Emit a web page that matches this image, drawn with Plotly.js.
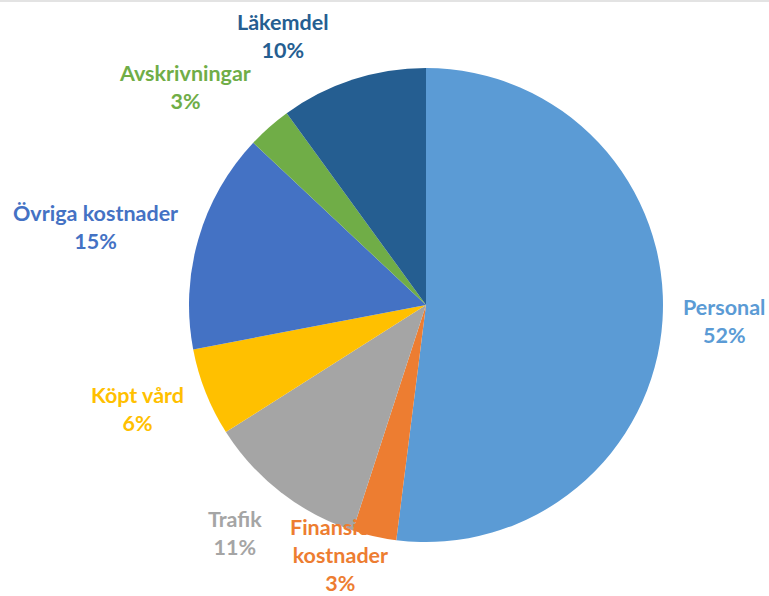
<!DOCTYPE html>
<html>
<head>
<meta charset="utf-8">
<script src="https://cdn.plot.ly/plotly-3.0.1.min.js"></script>
<style>html,body{margin:0;padding:0;background:#fff;}#chart{width:769px;height:596px;}</style>
</head>
<body>
<div id="chart"></div>
<script>
// Data
const labels = ["Personal", "Finansiella kostnader", "Trafik", "Köpt vård", "Övriga kostnader", "Avskrivningar", "Läkemdel"];
const labelLines = ["Personal", "Finansiella<br>kostnader", "Trafik", "Köpt vård", "Övriga kostnader", "Avskrivningar", "Läkemdel"];
const values = [52, 3, 11, 6, 15, 3, 10];
const colors = ["#5B9BD5", "#ED7D31", "#A5A5A5", "#FFC000", "#4472C4", "#70AD47", "#255E91"];

// Label positions (paper px, layout only)
const labelPos = [[724, 321], [340, 555], [235, 533], [137, 409], [95, 227], [185, 87], [283, 36]];

const W = 769, H = 596;
const cx = 426, cy = 305, r = 237;

const total = values.reduce((a, b) => a + b, 0);
const annotations = labels.map((l, i) => ({
  xref: "paper", yref: "paper",
  x: labelPos[i][0] / W, y: 1 - labelPos[i][1] / H,
  xanchor: "center", yanchor: "middle",
  text: "<b>" + labelLines[i] + "<br>" + Math.round(values[i] / total * 100) + "%</b>",
  showarrow: false,
  align: "center",
  font: {family: "Lato, 'Open Sans', sans-serif", size: 21.5, color: colors[i]}
}));

const trace = {
  type: "pie",
  labels: labels,
  values: values,
  sort: false,
  direction: "clockwise",
  rotation: 0,
  textinfo: "none",
  hoverinfo: "label+percent",
  marker: {colors: colors, line: {color: "#ffffff", width: 0}},
  domain: {x: [(cx - r) / W, (cx + r) / W], y: [(H - cy - r) / H, (H - cy + r) / H]},
  showlegend: false
};

const layout = {
  width: W, height: H,
  margin: {l: 0, r: 0, t: 0, b: 0},
  paper_bgcolor: "#ffffff",
  showlegend: false,
  annotations: annotations,
  shapes: [{type: "line", xref: "paper", yref: "paper", x0: 0, x1: 1, y0: 1 - 1 / H, y1: 1 - 1 / H, line: {color: "#e3e3e3", width: 2}}]
};

Plotly.newPlot("chart", [trace], layout, {displayModeBar: false, staticPlot: true});
</script>
</body>
</html>
